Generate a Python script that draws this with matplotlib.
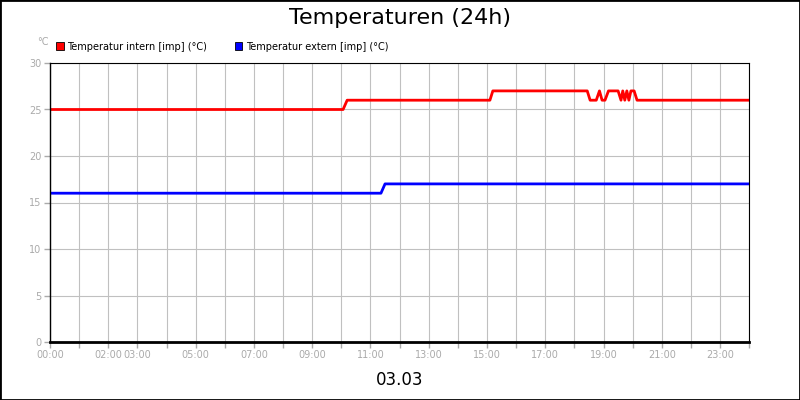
import matplotlib
matplotlib.use("Agg")
import matplotlib.pyplot as plt
from matplotlib.patches import Rectangle, Patch

# hours since 00:00, values in °C
intern_h = [0, 10.06, 10.2, 15.1, 15.2, 18.44, 18.54, 18.75, 18.86, 18.95, 19.05,
            19.17, 19.5, 19.6, 19.66, 19.73, 19.8, 19.87, 19.94, 20.05, 20.15, 24]
intern_t = [25, 25, 26, 26, 27, 27, 26, 26, 27, 26, 26,
            27, 27, 26, 27, 26, 27, 26, 27, 27, 26, 26]
extern_h = [0, 11.36, 11.5, 24]
extern_t = [16, 16, 17, 17]
tick_hours = [0, 2, 3, 5, 7, 9, 11, 13, 15, 17, 19, 21, 23]

grey = "#aaaaaa"
fig = plt.figure(figsize=(8, 4), dpi=100, facecolor="white")
fig.patches.append(Rectangle((0, 0), 1, 1, transform=fig.transFigure, fill=False,
                             edgecolor="black", linewidth=2))
ax = fig.add_axes((0.0625, 0.145, 0.874, 0.6975))
ax.plot(intern_h, intern_t, color="red", linewidth=2)
ax.plot(extern_h, extern_t, color="blue", linewidth=2)
ax.set_xlim(0, 24)
ax.set_ylim(0, 30)
ax.set_xticks(range(25))
ax.set_xticklabels([f"{h:02d}:00" if h in tick_hours else "" for h in range(25)])
ax.set_yticks(range(0, 31, 5))
ax.grid(True, color="#c0c0c0", linewidth=0.8)
ax.set_axisbelow(True)
ax.tick_params(colors=grey, labelsize=7, length=4, width=1, labelcolor=grey, pad=2)
for s in ax.spines.values():
    s.set_color("black")
ax.spines["left"].set_linewidth(1)
ax.spines["bottom"].set_linewidth(2)

ax.text(-0.01, 1.065, "°C", transform=ax.transAxes, color=grey, fontsize=7, ha="center")
handles = [Patch(facecolor="red", edgecolor="black", linewidth=0.6),
           Patch(facecolor="blue", edgecolor="black", linewidth=0.6)]
ax.legend(handles, ["Temperatur intern [imp] (°C)", "Temperatur extern [imp] (°C)"],
          loc="lower left", bbox_to_anchor=(0.0, 1.02), ncol=2, frameon=False,
          fontsize=7, handlelength=0.8, handleheight=0.8, borderaxespad=0.2,
          columnspacing=2.8, handletextpad=0.4)
fig.text(0.5, 0.955, "Temperaturen (24h)", ha="center", va="center", fontsize=16)
fig.text(0.5, 0.05, "03.03", ha="center", va="center", fontsize=12)
fig.savefig("out.png", dpi=100)
